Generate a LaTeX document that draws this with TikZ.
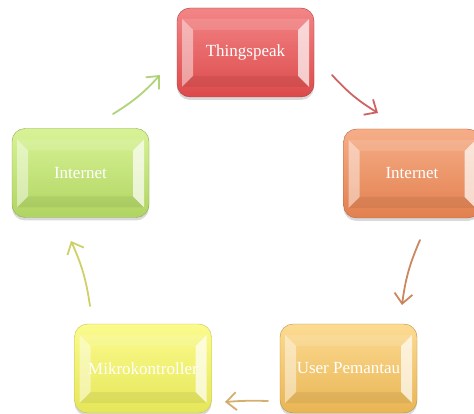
\documentclass[tikz,border=0pt]{standalone}
\usepackage{fontspec}
\setmainfont{Liberation Serif}
\usetikzlibrary{arrows.meta,shadows}

\definecolor{tsTop}{HTML}{F38586}
\definecolor{tsBot}{HTML}{DC4A4B}
\definecolor{inrTop}{HTML}{F6AE88}
\definecolor{inrBot}{HTML}{E2804F}
\definecolor{usrTop}{HTML}{FCDB92}
\definecolor{usrBot}{HTML}{E9B554}
\definecolor{mkTop}{HTML}{FBFB8E}
\definecolor{mkBot}{HTML}{E6E65A}
\definecolor{inlTop}{HTML}{D8F396}
\definecolor{inlBot}{HTML}{B0D462}
\definecolor{arGreen}{HTML}{A8CE6A}
\definecolor{arRed}{HTML}{C95352}
\definecolor{arBrown}{HTML}{C77A4D}
\definecolor{arTan}{HTML}{D0A660}
\definecolor{arYel}{HTML}{C9CC58}

\tikzset{
  bevel/.style={path picture={
    \fill[sharp corners,white,opacity=.45]
      ([shift={(5pt,-11pt)}]path picture bounding box.north west) --
      ([shift={(16pt,-22pt)}]path picture bounding box.north west) --
      ([shift={(16pt,21pt)}]path picture bounding box.south west) --
      ([shift={(5pt,10pt)}]path picture bounding box.south west) -- cycle;
    \fill[sharp corners,white,opacity=.7]
      ([shift={(-5pt,-11pt)}]path picture bounding box.north east) --
      ([shift={(-16pt,-22pt)}]path picture bounding box.north east) --
      ([shift={(-16pt,21pt)}]path picture bounding box.south east) --
      ([shift={(-5pt,10pt)}]path picture bounding box.south east) -- cycle;
    \fill[sharp corners,black,opacity=.06]
      ([shift={(16pt,21pt)}]path picture bounding box.south west) --
      ([shift={(-16pt,21pt)}]path picture bounding box.south east) --
      ([shift={(-5pt,10pt)}]path picture bounding box.south east) --
      ([shift={(5pt,10pt)}]path picture bounding box.south west) -- cycle;
    \fill[sharp corners,white,opacity=.12]
      ([shift={(16pt,-22pt)}]path picture bounding box.north west) --
      ([shift={(-16pt,-22pt)}]path picture bounding box.north east) --
      ([shift={(-5pt,-11pt)}]path picture bounding box.north east) --
      ([shift={(5pt,-11pt)}]path picture bounding box.north west) -- cycle;
  }},
  panel/.style={rounded corners=13pt, minimum width=137pt, minimum height=89pt,
    text=white, font=\fontsize{17pt}{20pt}\selectfont,
    drop shadow={shadow xshift=0pt,shadow yshift=-3pt,opacity=.3}, bevel},
  cyc/.style={line width=1.8pt, line cap=round, opacity=.9,
    -{Straight Barb[length=10pt,width=18pt,line width=1.8pt]}}
}

\begin{document}
\begin{tikzpicture}[x=1pt,y=-1pt]
  \useasboundingbox (0,0) rectangle (474,414);

  % boxes
  \node[panel, top color=tsTop, bottom color=tsBot, draw=tsBot!80!black] (ts) at (245.5,52.5) {Thingspeak};
  \node[panel, top color=inrTop, bottom color=inrBot, draw=inrBot!80!black] (inr) at (412,173.5) {Internet};
  \node[panel, top color=usrTop, bottom color=usrBot, draw=usrBot!80!black] (usr) at (348.5,368.5) {User Pemantau};
  \node[panel, top color=mkTop, bottom color=mkBot, draw=mkBot!85!black] (mk) at (143,368.5) {Mikrokontroller};
  \node[panel, top color=inlTop, bottom color=inlBot, draw=inlBot!80!black] (inl) at (80.5,173) {Internet};

  % arrow ends
  \coordinate (g1) at (113,114);  \coordinate (g2) at (160,75);
  \coordinate (r1) at (332,75);   \coordinate (r2) at (378,113);
  \coordinate (b1) at (420,240);  \coordinate (b2) at (402,305);
  \coordinate (t1) at (268,401);  \coordinate (t2) at (225,402);
  \coordinate (y1) at (90,306);   \coordinate (y2) at (71,241);

  \draw[cyc, arGreen] (g1) to[bend right=8] (g2);
  \draw[cyc, arRed] (r1) to[bend right=8] (r2);
  \draw[cyc, arBrown] (b1) to[bend right=8] (b2);
  \draw[cyc, arTan] (t1) to[bend right=3] (t2);
  \draw[cyc, arYel] (y1) to[bend right=8] (y2);
\end{tikzpicture}
\end{document}
